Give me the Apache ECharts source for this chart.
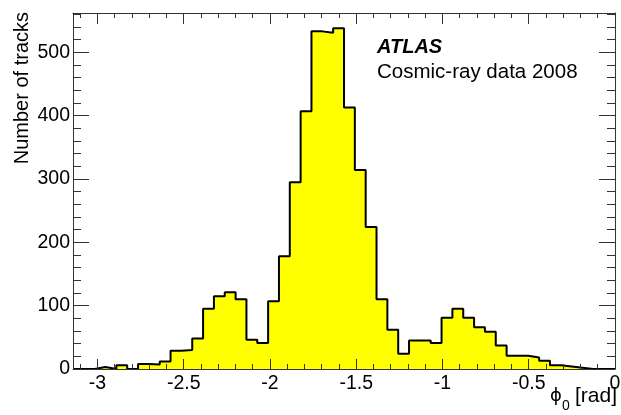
<!DOCTYPE html>
<html><head><meta charset="utf-8">
<script src="https://cdn.jsdelivr.net/npm/echarts@6/dist/echarts.min.js"></script>
<style>html,body{margin:0;padding:0;background:#fff}#c{width:621px;height:415px}</style>
</head><body><div id="c"></div>
<script>
// Histogram: 50 bins of phi0 between -pi and 0
const binCounts = [0,0,3,0,6,0,8,7,12,29,30,48,95,115,121,110,46,41,107,178,295,407,533,531,538,413,314,224,110,62,24,45,45,41,81,95,81,66,59,37,21,21,18,13,6,4,2,0,0,0];
const xRange = [-Math.PI, 0];
const yRange = [0, 562];
const xTickLabels = [-3,-2.5,-2,-1.5,-1,-0.5,0];
const yTickLabels = [0,100,200,300,400,500];
const xMinorStep = 0.1;
const yMinorStep = 20;

const nBins = binCounts.length;
const bw = (xRange[1] - xRange[0]) / nBins;
const stepData = binCounts.map((c, i) => [xRange[0] + i * bw, c]);
stepData.push([xRange[1], binCounts[nBins - 1]]);

const xMinor = [];
for (let k = Math.ceil(xRange[0] / xMinorStep); k <= 0; k++) xMinor.push(+(k * xMinorStep).toFixed(2));
const yMinor = [];
for (let v = yMinorStep; v < yRange[1]; v += yMinorStep) yMinor.push(v);

const FONT = "'Liberation Sans', Arial, Helvetica, sans-serif";
const AX = '#333';

function xAx(pos, ticks, len, line, labels) {
  return {
    type: 'value', position: pos, min: xRange[0], max: xRange[1], z: 5,
    axisLine: { show: line, onZero: false, lineStyle: { color: AX, width: 1 } },
    axisTick: { show: true, inside: true, length: len, customValues: ticks, lineStyle: { color: AX, width: 1 } },
    axisLabel: labels ? { show: true, customValues: ticks, margin: 5, color: '#000', fontSize: 19.5, fontFamily: FONT,
                           formatter: v => String(v) } : { show: false },
    splitLine: { show: false }, minorTick: { show: false }
  };
}
function yAx(pos, ticks, len, line, labels) {
  return {
    type: 'value', position: pos, min: yRange[0], max: yRange[1], z: 5,
    axisLine: { show: line, onZero: false, lineStyle: { color: AX, width: 1 } },
    axisTick: { show: true, inside: true, length: len, customValues: ticks, lineStyle: { color: AX, width: 1 } },
    axisLabel: labels ? { show: true, customValues: ticks, margin: 3, color: '#000', fontSize: 19.5, fontFamily: FONT } : { show: false },
    splitLine: { show: false }, minorTick: { show: false }
  };
}

const chart = echarts.init(document.getElementById('c'), null, { renderer: 'canvas' });
chart.setOption({
  animation: false,
  backgroundColor: '#fff',
  grid: { left: 73, right: 6, top: 13, bottom: 46, containLabel: false, outerBoundsMode: 'none' },
  xAxis: [
    xAx('bottom', xTickLabels, 10, true, true),
    xAx('bottom', xMinor, 5, false, false),
    xAx('top', xTickLabels, 11, true, false),
    xAx('top', xMinor, 5, false, false)
  ],
  yAxis: [
    yAx('left', yTickLabels, 16, true, true),
    yAx('left', yMinor, 8, false, false),
    yAx('right', yTickLabels, 16, true, false),
    yAx('right', yMinor, 8, false, false)
  ],
  series: [{
    type: 'line', xAxisIndex: 0, yAxisIndex: 0, step: 'end', z: 1,
    data: stepData, symbol: 'none', clip: true,
    lineStyle: { color: '#000', width: 2 },
    areaStyle: { color: '#ffff00', opacity: 1 }
  }],
  graphic: [
    { type: 'text', x: 377, y: 47, z: 10,
      style: { text: 'ATLAS', fontSize: 20, fontWeight: 'bold', fontStyle: 'italic', fontFamily: FONT, fill: '#000', verticalAlign: 'middle', align: 'left' } },
    { type: 'text', x: 377, y: 72, z: 10,
      style: { text: 'Cosmic-ray data 2008', fontSize: 20.5, fontFamily: FONT, fill: '#000', verticalAlign: 'middle', align: 'left' } },
    { type: 'text', x: 22, y: 12, rotation: Math.PI / 2, z: 10,
      style: { text: 'Number of tracks', fontSize: 20, fontFamily: FONT, fill: '#000', verticalAlign: 'middle', align: 'right' } },
    { type: 'text', x: 617, y: 396, z: 10,
      style: { text: '[rad]', fontSize: 21, fontFamily: FONT, fill: '#000', verticalAlign: 'middle', align: 'right' } },
    { type: 'text', x: 550, y: 396, z: 10,
      style: { text: '\u03D5', fontSize: 18, fontFamily: "'DejaVu Sans', sans-serif", fill: '#000', verticalAlign: 'middle', align: 'left' } },
    { type: 'text', x: 562, y: 406, z: 10,
      style: { text: '0', fontSize: 14, fontFamily: FONT, fill: '#000', verticalAlign: 'middle', align: 'left' } }
  ]
});
</script>
</body></html>
